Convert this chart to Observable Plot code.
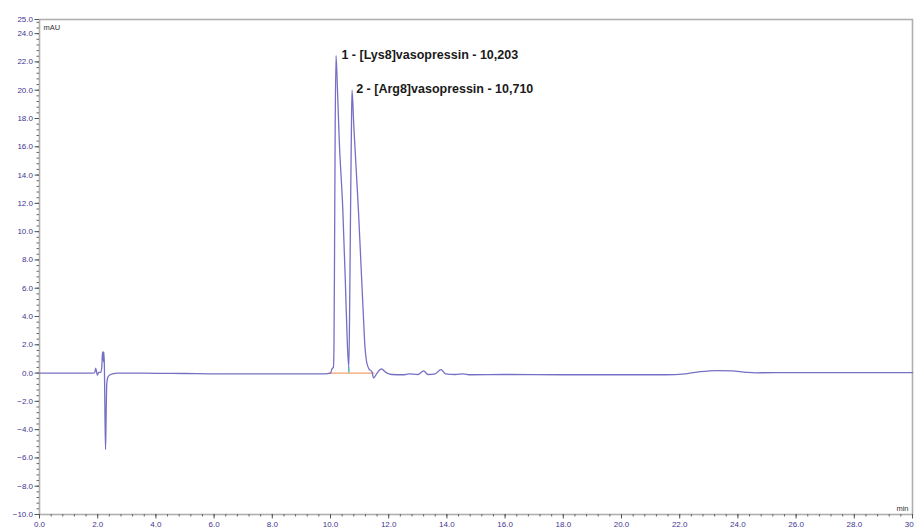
<!DOCTYPE html>
<html>
<head>
<meta charset="utf-8">
<script src="https://cdn.jsdelivr.net/npm/d3@7"></script>
<script src="https://cdn.jsdelivr.net/npm/@observablehq/plot@0.6"></script>
<style>
  html, body { margin: 0; padding: 0; background: #fff; }
  #chart { width: 914px; height: 528px; overflow: hidden; }
</style>
</head>
<body>
<div id="chart"></div>
<script>
// Retention time (min) and detector signal (mAU)
const time = [
  0, 1.0, 1.85, 1.90, 1.93, 1.96, 1.99, 2.03, 2.10, 2.14, 2.16, 2.18, 2.20, 2.21, 2.23, 2.25, 2.27, 2.29, 2.31, 2.34, 2.40, 2.50, 2.70,
  3.0, 4.0, 5.0, 6.0, 7.0, 8.0, 9.0, 9.8, 10.0, 10.05, 10.10, 10.12, 10.14, 10.16, 10.19,
  10.24, 10.30, 10.42, 10.51, 10.58, 10.63, 10.66, 10.69, 10.72, 10.74,
  10.80, 10.88, 10.96, 11.04, 11.12, 11.18, 11.24, 11.32, 11.42, 11.48, 11.60, 11.75, 11.90,
  12.1, 12.5, 12.7, 13.0, 13.2, 13.35, 13.6, 13.8, 13.95, 14.3, 14.55, 14.8, 16.0, 18.0, 20.0,
  21.5, 22.2, 22.7, 23.3, 23.8, 24.3, 24.6, 26.0, 28.0, 30.0
];
const signal = [
  0, 0, 0, 0.05, 0.35, 0.1, -0.15, 0.05, 0.05, 0.4, 1.3, 1.5, 0.8, 1.5, 0.5, -3.0, -5.4, -3.0, -0.8, -0.35, -0.15, -0.05, 0,
  0, -0.02, -0.03, -0.05, -0.05, -0.05, -0.05, -0.05, 0.0, 0.3, 0.4, 2.0, 9.0, 17.0, 22.45,
  20.0, 16.5, 11.7, 6.5, 2.0, 0.4, 5.0, 11.7, 17.5, 20.0,
  17.5, 14.5, 11.5, 8.0, 4.5, 2.0, 0.8, 0.3, 0.1, -0.35, 0.0, 0.3, 0.05,
  -0.1, -0.12, -0.05, -0.1, 0.15, -0.1, -0.05, 0.25, -0.05, -0.1, -0.05, -0.12, -0.1, -0.12, -0.12,
  -0.12, -0.05, 0.1, 0.18, 0.15, 0.05, 0.02, 0.03, 0.03, 0.03
];

// Peak annotations
const peakTimes = [10.203, 10.710];
const peakApex = [22.45, 20.0];
const peakLabels = ["1 - [Lys8]vasopressin - 10,203", "2 - [Arg8]vasopressin - 10,710"];

// Integration baseline and peak split
const baselineTimes = [9.95, 11.5];
const baselineValues = [0, 0];
const dropTime = [10.63];
const dropValue = [0.4];

// Axis ticks
const xTicks = d3.range(0, 30.001, 2);
const xMinor = d3.range(0, 30.001, 0.4);
const yTicks = [25, 24, 22, 20, 18, 16, 14, 12, 10, 8, 6, 4, 2, 0, -2, -4, -6, -8, -10];
const yMinor = d3.range(-10, 25.001, 0.4);

const trace = time.map((t, i) => ({t, v: signal[i]}));
const peaks = peakTimes.map((t, i) => ({t, v: peakApex[i], label: peakLabels[i]}));
const baseline = baselineTimes.map((t, i) => ({t, v: baselineValues[i]}));
const drop = dropTime.map((t, i) => ({t, v: dropValue[i]}));

const fmt = d3.format(".1f");
const labelColor = "#3f3590";

const chart = Plot.plot({
  width: 914,
  height: 528,
  marginLeft: 39,
  marginRight: 2,
  marginTop: 19,
  marginBottom: 14,
  style: {fontFamily: "'Liberation Sans', Arial, sans-serif", background: "#fff", overflow: "hidden"},
  x: {domain: [0, 30]},
  y: {domain: [-10, 25]},
  marks: [
    Plot.frame({stroke: "#b0b0b0", strokeWidth: 1.6}),
    Plot.axisX({ticks: xMinor, tickSize: 2.5, tickFormat: () => "", label: null, stroke: "#666"}),
    Plot.axisY({ticks: yMinor, tickSize: 2.5, tickFormat: () => "", label: null, stroke: "#666"}),
    Plot.axisX({ticks: xTicks, tickSize: 4.5, tickPadding: 2, tickFormat: fmt, label: null,
                fontSize: 8, stroke: "#555", fill: labelColor}),
    Plot.axisY({ticks: yTicks, tickSize: 4.5, tickPadding: 2, tickFormat: fmt, label: null,
                fontSize: 8, stroke: "#555", fill: labelColor}),
    Plot.line(baseline, {x: "t", y: "v", stroke: "#f2a173", strokeWidth: 1.3}),
    Plot.ruleX(drop, {x: "t", y1: 0, y2: "v", stroke: "#3aa8a8", strokeWidth: 1.3}),
    Plot.line(trace, {x: "t", y: "v", stroke: "#7670c4", strokeWidth: 1.3, curve: "monotone-x"}),
    Plot.text(peaks, {x: "t", y: "v", text: "label", textAnchor: "start", dx: 5, dy: -1,
                      fontSize: 12.5, fontWeight: "bold", fill: "#1a1a1a"}),
    Plot.text(["mAU"], {frameAnchor: "top-left", dx: 4, dy: 5, fontSize: 7.5, fill: "#333", textAnchor: "start", lineAnchor: "top"}),
    Plot.text(["min"], {frameAnchor: "bottom-right", dx: -4, dy: -4, fontSize: 7.5, fill: "#333", textAnchor: "end", lineAnchor: "bottom"})
  ]
});
document.getElementById("chart").appendChild(chart);
</script>
</body>
</html>
